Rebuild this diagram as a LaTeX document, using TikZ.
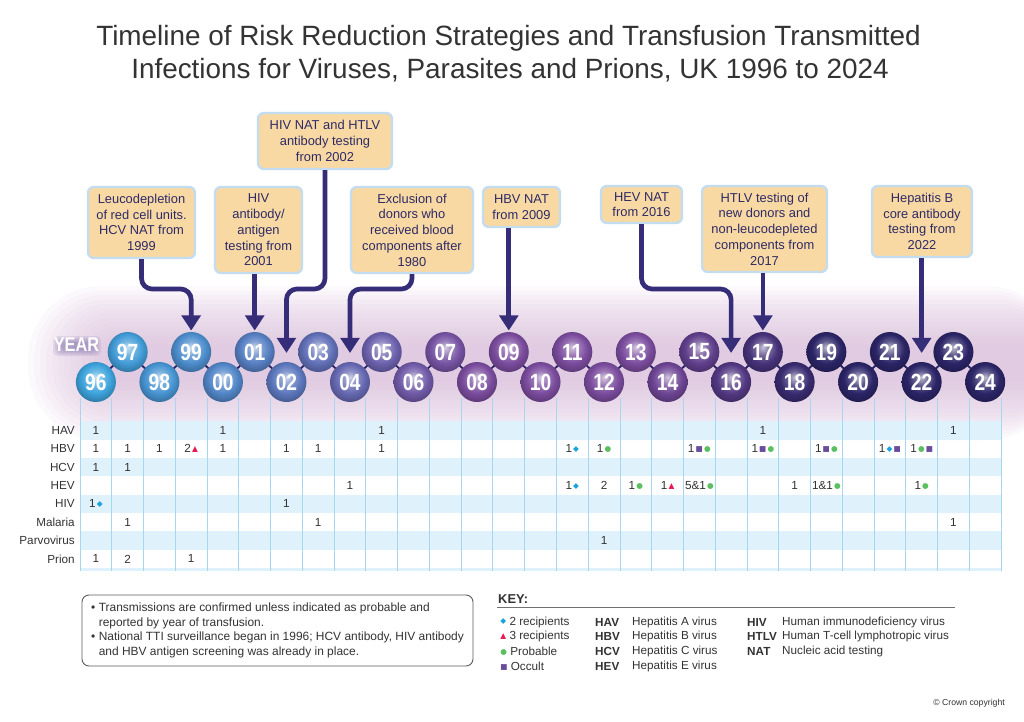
\documentclass[tikz,border=0pt]{standalone}
\usepackage{fontspec}
\setmainfont{Liberation Sans}
\newfontfamily\yearfont[FakeStretch=0.82]{Liberation Sans}
\newfontfamily\symfont{DejaVu Sans}
\usetikzlibrary{arrows.meta,backgrounds,positioning}

\definecolor{ttlgray}{HTML}{333333}
\definecolor{boxtan}{HTML}{F9D9A3}
\definecolor{boxglow}{HTML}{C4DCF0}
\definecolor{boxtext}{HTML}{2D2A66}
\definecolor{linkc}{HTML}{352D78}
\definecolor{glowc}{HTML}{D6B4D8}
\definecolor{rowblue}{HTML}{DFF1FB}
\definecolor{gridblue}{HTML}{A9D6EF}
\definecolor{ballblue}{HTML}{3DA3DC}
\definecolor{ballpurple}{HTML}{7B4C9E}
\definecolor{ballnavy}{HTML}{2B2567}
\definecolor{yearedge}{HTML}{6A5A9E}
\definecolor{mkcyan}{HTML}{1AA3DC}
\definecolor{mkred}{HTML}{E8174F}
\definecolor{mkgreen}{HTML}{5CBF5F}
\definecolor{mkpurple}{HTML}{6A4C9C}
\colorlet{bc}{ballblue}

% glossy ball, follows the current colour bc
\pgfdeclareradialshading[bc]{gloss}{\pgfpoint{0bp}{6bp}}{%
  color(0bp)=(bc!30!white); color(9bp)=(bc!75!white); color(18bp)=(bc);
  color(26bp)=(bc!80!black); color(32bp)=(bc!60!black); color(50bp)=(bc!60!black)}

\newcommand\mkglyph[2]{\kern1pt\raisebox{1pt}{\color{#1}\symfont\fontsize{6.5}{6.5}\selectfont #2}}
\newcommand\mkdia{\mkglyph{mkcyan}{◆}}
\newcommand\mktri{\mkglyph{mkred}{▲}}
\newcommand\mkpro{\mkglyph{mkgreen}{●}}
\newcommand\mkocc{\mkglyph{mkpurple}{■}}

\begin{document}
\begin{tikzpicture}[x=0.03cm,y=-0.03cm,
  yearball/.style={circle,minimum size=1.2cm,inner sep=0pt,shading=gloss,
    text=white,font=\yearfont\bfseries\fontsize{20}{20}\selectfont},
  balllink/.style={draw=ballnavy,line width=1.6pt},
  yearword/.style={inner sep=0pt,font=\yearfont\bfseries\fontsize{17}{17}\selectfont},
  note/.style={draw=boxglow,line width=2pt,fill=boxtan,rounded corners=5pt,
    align=center,text=boxtext,inner sep=2pt,font=\fontsize{11}{13.4}\selectfont},
  link/.style={draw=linkc,line width=4pt,rounded corners=9pt,
    -{Triangle[width=16pt,length=13pt]}},
  rowlabel/.style={anchor=east,inner sep=0pt,text=ttlgray,font=\fontsize{10}{12}\selectfont},
  cell/.style={inner sep=0pt,text=ttlgray,font=\fontsize{10}{12}\selectfont},
  keytext/.style={anchor=west,inner sep=0pt,text=ttlgray,font=\fontsize{10}{12}\selectfont},
  keyabbr/.style={keytext,font=\bfseries\fontsize{10}{12}\selectfont},
]
\useasboundingbox (0,0) rectangle (1024,722);

% title
\node[anchor=base,inner sep=0pt,text=ttlgray,font=\fontsize{23.8}{28}\selectfont] (title) at (508.5,45)
  {Timeline of Risk Reduction Strategies and Transfusion Transmitted};
\node[anchor=base,inner sep=0pt,text=ttlgray,font=\fontsize{23.8}{28}\selectfont] (title2) at (510,78)
  {Infections for Viruses, Parasites and Prions, UK 1996 to 2024};

% glow behind the years
\begin{pgfonlayer}{background}
  \fill[white] (0,0) rectangle (1024,722);
  \foreach \k in {0,...,13} {
    \pgfmathsetmacro\rr{2.2-0.13*\k}
    \fill[glowc,opacity=0.07,rounded corners=\rr cm] (28+6*\k,286+4.5*\k) rectangle (1060,440-4.5*\k);
  }
  % purple halo round the word YEAR
  \foreach \k in {0,...,4}
    \fill[yearedge,opacity=0.12,rounded corners=4pt] (53+2*\k,336+1.5*\k) rectangle (101-2*\k,356-1.5*\k);
\end{pgfonlayer}

% table
\foreach \r in {0,2,4,6}
  \fill[rowblue] (80,{421.3+18.35*\r}) rectangle (1001,{421.3+18.35*(\r+1)});
\fill[rowblue] (80,568.1) rectangle (1001,571);
\foreach \k in {0,...,29}
  \draw[gridblue,line width=0.7pt] ({80+31.76*\k},398) -- ({80+31.76*\k},571);

\foreach \lab [count=\r from 0] in {HAV,HBV,HCV,HEV,HIV,Malaria,Parvovirus,Prion}
  \node[rowlabel] (lab\r) at (75,{430.5+18.35*\r}) {\lab};

\foreach \c/\r/\txt in {0/0/1, 4/0/1, 9/0/1, 21/0/1, 27/0/1,
    0/1/1, 1/1/1, 2/1/1, 3/1/2\mktri, 4/1/1, 6/1/1, 7/1/1, 9/1/1,
    15/1/1\mkdia, 16/1/1\mkpro, 19/1/1\mkocc\mkpro, 21/1/1\mkocc\mkpro,
    23/1/1\mkocc\mkpro, 25/1/1\mkdia\mkocc, 26/1/1\mkpro\mkocc,
    0/2/1, 1/2/1,
    8/3/1, 15/3/1\mkdia, 16/3/2, 17/3/1\mkpro, 18/3/1\mktri, 19/3/5\&1\mkpro,
    22/3/1, 23/3/1\&1\mkpro, 26/3/1\mkpro,
    0/4/1\mkdia, 6/4/1,
    1/5/1, 7/5/1, 27/5/1,
    16/6/1,
    0/7/1, 1/7/2, 3/7/1}
  \node[cell] (v\c-\r) at ({95.9+31.76*\c},{430.5+18.35*\r}) {\txt};

% year balls
\foreach \yr [count=\i from 0] in {96,97,98,99,00,01,02,03,04,05,06,07,08,09,10,
    11,12,13,14,15,16,17,18,19,20,21,22,23,24} {
  \pgfmathsetmacro\px{95.9+31.76*\i}
  \pgfmathsetmacro\py{ifthenelse(mod(\i,2)==0,382,352)}
  \pgfmathsetmacro\mixa{min(100,\i*100/12)}
  \pgfmathsetmacro\mixb{max(0,min(100,(\i-17)*100/6))}
  \colorlet{bc}{ballpurple!\mixa!ballblue}
  \colorlet{bc}{ballnavy!\mixb!bc}
  \node[yearball] (y\yr) at (\px,\py) {\yr};
}
\begin{pgfonlayer}{background}
  \foreach \a/\b in {96/97,97/98,98/99,99/00,00/01,01/02,02/03,03/04,04/05,05/06,
      06/07,07/08,08/09,09/10,10/11,11/12,12/13,13/14,14/15,15/16,16/17,17/18,
      18/19,19/20,20/21,21/22,22/23,23/24}
    \draw[balllink] (y\a.center) -- (y\b.center);
\end{pgfonlayer}

\node[yearword,text=white] (yeartag) at (76.5,345) {YEAR};

% strategy boxes
\node[note,minimum width=3.21cm,minimum height=2.13cm] (leuco) at (141.5,222.5)
  {Leucodepletion\\of red cell units.\\HCV NAT from\\1999};
\node[note,minimum width=2.61cm,minimum height=2.58cm] (hivag) at (258.5,230)
  {HIV\\antibody/\\antigen\\testing from\\2001};
\node[note,minimum width=4.02cm,minimum height=1.68cm] (hivnat) at (325,141)
  {HIV NAT and HTLV\\antibody testing\\from 2002};
\node[note,minimum width=3.66cm,minimum height=2.58cm] (excl) at (412,230)
  {Exclusion of\\donors who\\received blood\\components after\\1980};
\node[note,minimum width=2.31cm,minimum height=1.2cm] (hbvnat) at (521.5,207)
  {HBV NAT\\from 2009};
\node[note,minimum width=2.43cm,minimum height=1.11cm] (hevnat) at (641.5,204.5)
  {HEV NAT\\from 2016};
\node[note,minimum width=3.75cm,minimum height=2.58cm] (htlv) at (764.5,229)
  {HTLV testing of\\new donors and\\non-leucodepleted\\components from\\2017};
\node[note,minimum width=3.0cm,minimum height=2.13cm] (hbc) at (922,221.5)
  {Hepatitis B\\core antibody\\testing from\\2022};

\coordinate (bend) at (0,289);
\draw[link,shorten >=1pt] (leuco.south) -- (leuco.south |- bend) -| (y99.north);
\draw[link,shorten >=1pt] (hivag.south -| y01) -- (y01.north);
\draw[link,shorten >=7.5pt] (hivnat.south) -- (hivnat.south |- bend) -| (y02.north);
\draw[link,shorten >=7.5pt] (excl.south) -- (excl.south |- bend) -| (y04.north);
\draw[link,shorten >=1pt] (hbvnat.south -| y09) -- (y09.north);
\draw[link,shorten >=7.5pt] (hevnat.south) -- (hevnat.south |- bend) -| (y16.north);
\draw[link,shorten >=1pt] (htlv.south -| y17) -- (y17.north);
\draw[link,shorten >=7.5pt] (hbc.south -| y22) -- (y22.north);

% notes
\node[draw=ttlgray!80,line width=0.8pt,rounded corners=6pt,minimum width=11.73cm,
  minimum height=2.13cm,inner sep=3pt,text=ttlgray,font=\fontsize{10.2}{12.6}\selectfont]
  (notes) at (277.5,630.5) {%
  \begin{tabular}{@{}l@{\hspace{3pt}}l@{}}
  \textbullet & Transmissions are confirmed unless indicated as probable and\\
   & reported by year of transfusion.\\
  \textbullet & National TTI surveillance began in 1996; HCV antibody, HIV antibody\\
   & and HBV antigen screening was already in place.
  \end{tabular}};

% key
\node[keyabbr,anchor=base west,font=\bfseries\fontsize{11}{12}\selectfont] (keytitle) at (498,603) {KEY:};
\draw[ttlgray!70,line width=0.8pt] (497,607.5) -- (955,607.5);
\foreach \txt [count=\r from 0] in {\mkdia\ 2 recipients,\mktri\ 3 recipients,
    \mkpro\ Probable,\mkocc\ Occult}
  \node[keytext] (ksym\r) at (499,{622+14.7*\r}) {\txt};
\foreach \ab/\txt [count=\r from 0] in {HAV/Hepatitis A virus,HBV/Hepatitis B virus,
    HCV/Hepatitis C virus,HEV/Hepatitis E virus} {
  \node[keyabbr] (kab\r) at (595,{622+14.7*\r}) {\ab};
  \node[keytext] (kde\r) at (632,{622+14.7*\r}) {\txt};
}
\foreach \ab/\txt [count=\r from 0] in {HIV/Human immunodeficiency virus,
    HTLV/Human T-cell lymphotropic virus,NAT/Nucleic acid testing} {
  \node[keyabbr] (kbb\r) at (747,{622+14.7*\r}) {\ab};
  \node[keytext] (kdd\r) at (782,{622+14.7*\r}) {\txt};
}

\node[anchor=base east,inner sep=0pt,text=ttlgray,font=\fontsize{7.4}{8}\selectfont] (copy) at (1005,705)
  {© Crown copyright};
\end{tikzpicture}
\end{document}
